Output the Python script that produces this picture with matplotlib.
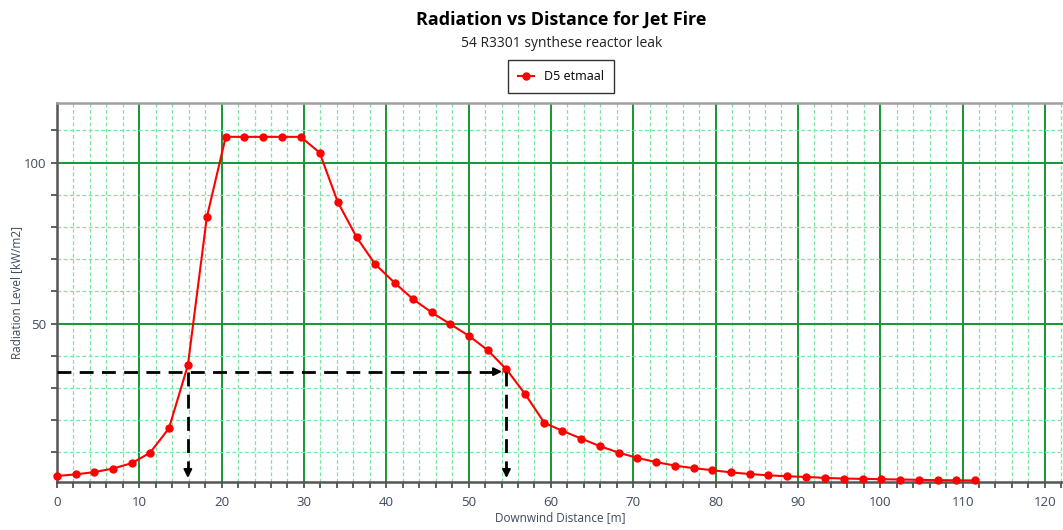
import matplotlib
matplotlib.use("Agg")
import matplotlib.pyplot as plt
from matplotlib.ticker import MultipleLocator

plt.rcParams['font.family'] = ['Open Sans', 'DejaVu Sans']

# Downwind distance [m] and radiation level [kW/m2]
distance = [0.0, 2.3, 4.5, 6.8, 9.1, 11.3, 13.6, 15.9, 18.2, 20.5,
            22.7, 25.0, 27.3, 29.6, 31.9, 34.1, 36.4, 38.6, 41.0, 43.2,
            45.5, 47.8, 50.1, 52.3, 54.6, 56.9, 59.2, 61.4, 63.7, 66.0,
            68.3, 70.5, 72.8, 75.1, 77.4, 79.6, 81.9, 84.2, 86.4, 88.7,
            91.0, 93.3, 95.6, 97.9, 100.1, 102.4, 104.7, 107.0, 109.2, 111.5]
radiation = [2.7, 3.2, 3.9, 5.0, 6.7, 9.9, 17.5, 37.1, 83.0, 108.0,
             108.0, 108.0, 108.0, 108.0, 103.1, 87.8, 76.8, 68.6, 62.7, 57.7,
             53.5, 49.8, 46.1, 41.8, 35.8, 28.0, 19.2, 16.7, 14.3, 11.9,
             9.9, 8.3, 7.0, 5.9, 5.1, 4.5, 3.8, 3.3, 2.9, 2.6,
             2.4, 2.1, 1.9, 1.8, 1.7, 1.6, 1.5, 1.4, 1.35, 1.3]

# threshold marker lines
level_mark = 35.1
dist_marks = [15.9, 54.6]

fig = plt.figure(figsize=(10.63, 5.30), dpi=100)
ax = fig.add_axes([0.0536, 0.091, 0.9464, 0.714])

ax.set_xlim(0, 122.2)
ax.set_ylim(0.9, 118.4)

ax.xaxis.set_major_locator(MultipleLocator(10))
ax.xaxis.set_minor_locator(MultipleLocator(2))
ax.yaxis.set_major_locator(MultipleLocator(50))
ax.yaxis.set_minor_locator(MultipleLocator(10))

ax.grid(which='minor', color='#7be6a4', linestyle=(0, (3, 2)), linewidth=0.9)
ax.grid(which='major', color='#169636', linestyle='-', linewidth=1.4)
ax.set_axisbelow(True)

for s in ['left', 'bottom']:
    ax.spines[s].set_color('#555555')
    ax.spines[s].set_linewidth(1.8)
ax.spines['top'].set_color('#a0a0a0')
ax.spines['top'].set_linewidth(1.8)
ax.spines['right'].set_visible(False)

ax.tick_params(which='both', direction='out', color='#444444', width=1.2,
               labelsize=9.5, labelcolor='#3c4a5c')
ax.tick_params(which='major', length=4)
ax.tick_params(which='minor', length=4)
ax.tick_params(axis='x', pad=6)
ax.yaxis.set_minor_formatter(plt.NullFormatter())

ax.plot(distance, radiation, color='#ff0000', linewidth=1.5, marker='o',
        markersize=5, label='D5 etmaal', zorder=5, clip_on=False)

# dashed guide lines with arrow heads
dash = dict(color='black', linestyle=(0, (5, 3)), linewidth=2, zorder=6)
ax.plot([0, dist_marks[1] - 0.6], [level_mark, level_mark], **dash)
for xm in dist_marks:
    ax.plot([xm, xm], [level_mark, 4.0], **dash)
    ax.annotate('', xy=(xm, 1.2), xytext=(xm, 4.5),
                arrowprops=dict(arrowstyle='-|>', color='black', lw=1.5,
                                mutation_scale=12), zorder=7)
ax.annotate('', xy=(dist_marks[1] - 0.2, level_mark), xytext=(dist_marks[1] - 2.0, level_mark),
            arrowprops=dict(arrowstyle='-|>', color='black', lw=1.5,
                            mutation_scale=12), zorder=7)

ax.set_xlabel('Downwind Distance [m]', fontsize=8.5, color='#3c4a5c', labelpad=2)
ax.set_ylabel('Radiation Level [kW/m2]', fontsize=8.5, color='#3c4a5c', labelpad=1)

fig.text(0.528, 0.962, 'Radiation vs Distance for Jet Fire', ha='center', va='center',
         fontsize=13, fontweight='bold', color='black')
fig.text(0.528, 0.917, '54 R3301 synthese reactor leak', ha='center', va='center',
         fontsize=10, color='#222222')

leg = fig.legend(loc='center', bbox_to_anchor=(0.528, 0.855), fontsize=9,
                 frameon=True, fancybox=False, edgecolor='black',
                 handlelength=1.3, borderpad=0.8)
leg.get_frame().set_linewidth(1.0)

fig.savefig('out.png', dpi=100)
